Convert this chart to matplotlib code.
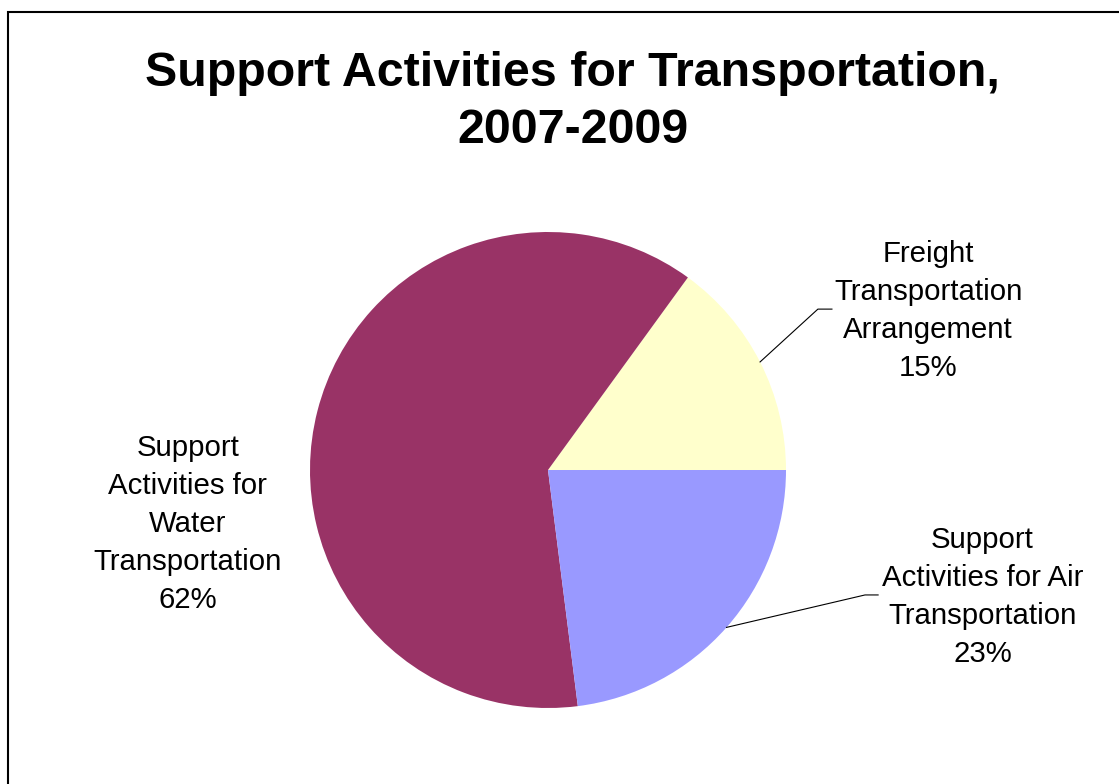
import numpy as np
import matplotlib
matplotlib.use("Agg")
import matplotlib.pyplot as plt
from matplotlib.patches import Rectangle

plt.rcParams["font.family"] = ["Liberation Sans", "DejaVu Sans"]

# shares by industry, counter-clockwise from 3 o'clock
labels = ["Freight\nTransportation\nArrangement",
          "Support\nActivities for\nWater\nTransportation",
          "Support\nActivities for Air\nTransportation"]
shares = [15, 62, 23]
colors = ["#FFFFCC", "#993366", "#9999FF"]

W, H = 1119, 784
cx, cy, r = 548, 470, 238

fig = plt.figure(figsize=(W / 100, H / 100), dpi=100)
fig.patches.append(Rectangle((8 / W, -0.1), 1.2, 1 - 12 / H + 0.1,
                             transform=fig.transFigure, fill=False,
                             edgecolor="black", lw=1.5))

fig.text(0.512, 1 - 102 / H, "Support Activities for Transportation,\n2007-2009",
         ha="center", va="center", fontsize=34.8, fontweight="bold",
         linespacing=1.34)

ax = fig.add_axes([(cx - r) / W, (H - cy - r) / H, 2 * r / W, 2 * r / H])
wedges, _ = ax.pie(shares, colors=colors, startangle=0, counterclock=True,
                   radius=1, wedgeprops=dict(linewidth=0))
ax.set_xlim(-1, 1)
ax.set_ylim(-1, 1)
ax.set_aspect("equal")
ax.axis("off")

# label centres and leader elbows in pie-radius units
text_pos = [(1.597, 0.668), (-1.513, -0.227), (1.826, -0.534)]
elbows = [((1.134, 0.676), (1.193, 0.676)), None,
          ((1.332, -0.525), (1.387, -0.525))]

for w, lab, s, tp, el in zip(wedges, labels, shares, text_pos, elbows):
    ax.text(tp[0], tp[1], f"{lab}\n{s}%", ha="center", va="center",
            fontsize=21.2, linespacing=1.45, clip_on=False)
    if el is not None:
        mid = np.deg2rad((w.theta1 + w.theta2) / 2)
        xs = [np.cos(mid), el[0][0], el[1][0]]
        ys = [np.sin(mid), el[0][1], el[1][1]]
        ax.plot(xs, ys, color="black", lw=0.8, clip_on=False)

fig.savefig("out.png", dpi=100)
